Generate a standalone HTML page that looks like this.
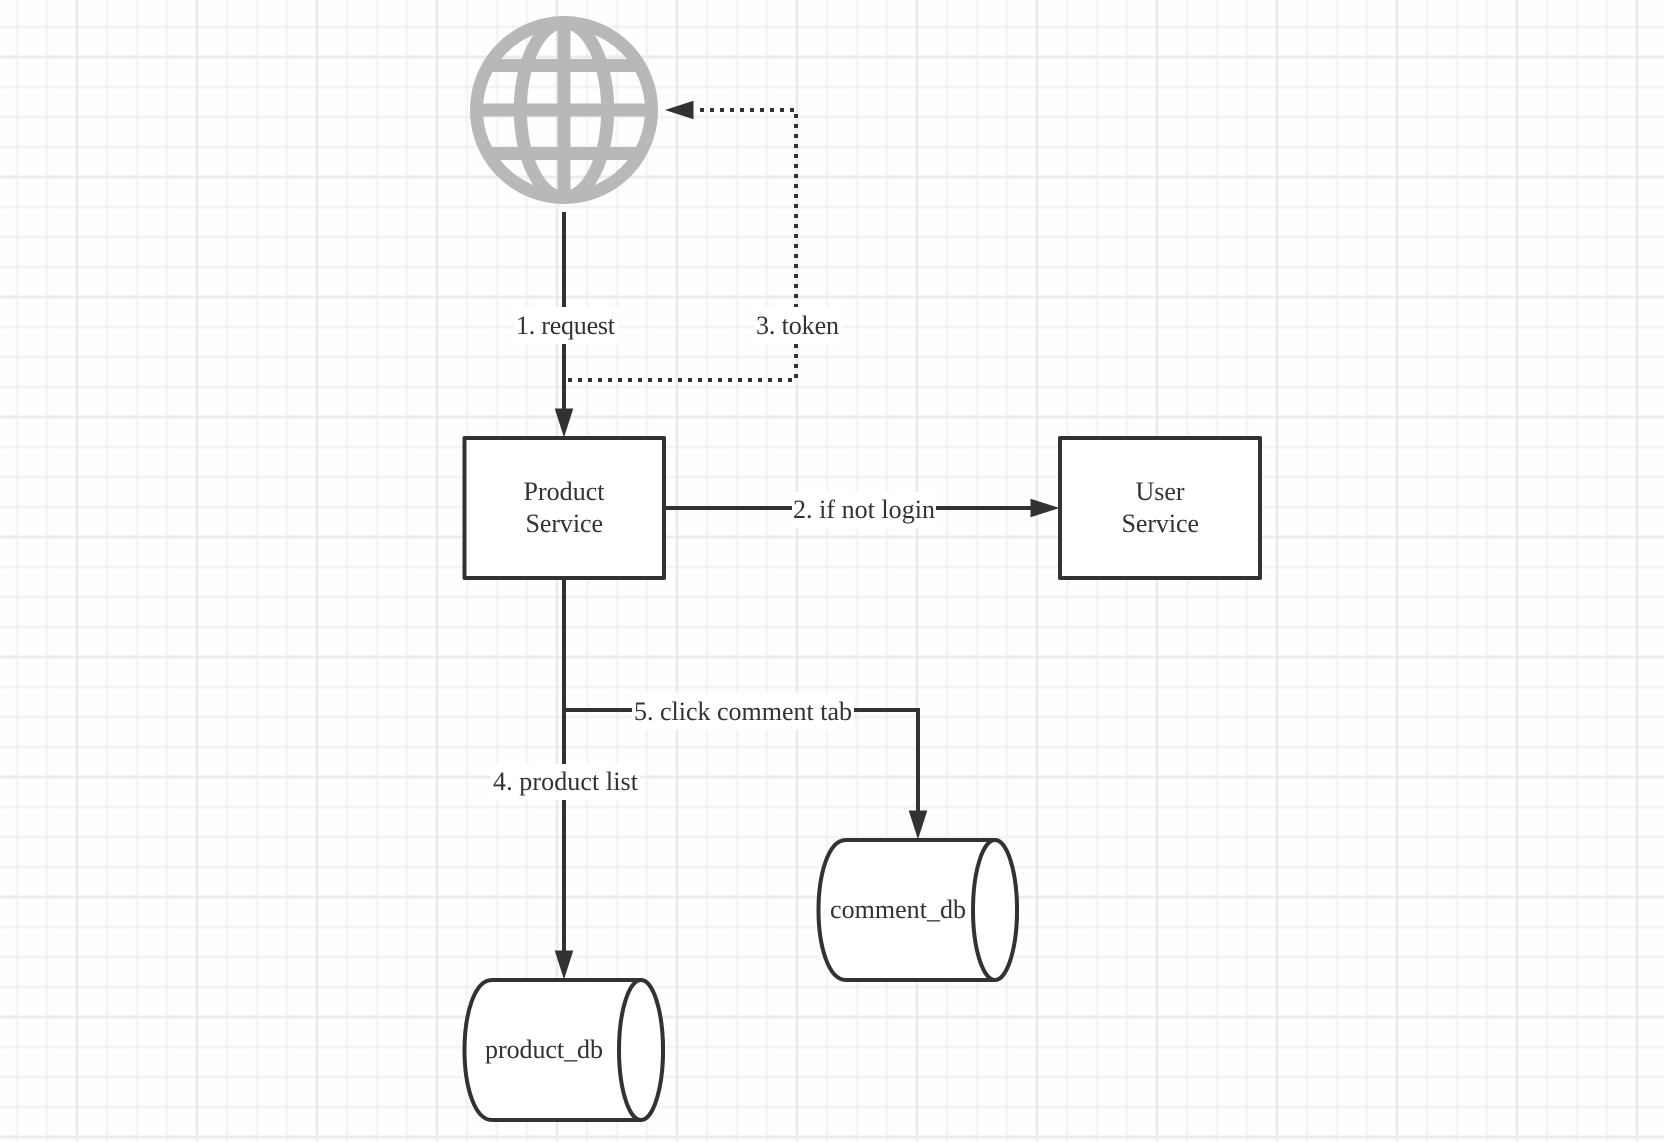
<!DOCTYPE html>
<html>
<head>
<meta charset="utf-8">
<style>
html,body{margin:0;padding:0;background:#fff;width:1664px;height:1142px;overflow:hidden}
svg{display:block}
text{font-family:"Liberation Serif",serif;font-size:26px;fill:#333}
</style>
</head>
<body>
<svg xmlns="http://www.w3.org/2000/svg" width="1664" height="1142" viewBox="0 0 1664 1142">
<defs>
<pattern id="gMinor" width="30" height="30" patternUnits="userSpaceOnUse" x="2" y="12">
<path d="M15 0V30M0 15H30" fill="none" stroke="#f2f2f2" stroke-width="2.4"/>
</pattern>
<pattern id="gMajor" width="120" height="120" patternUnits="userSpaceOnUse" x="17" y="-3">
<path d="M60 0V120M0 60H120" fill="none" stroke="#eaeaea" stroke-width="2.4"/>
</pattern>
<clipPath id="globeClip"><circle cx="564" cy="110" r="90"/></clipPath>
<filter id="soft" filterUnits="userSpaceOnUse" x="-10" y="-10" width="1684" height="1162"><feGaussianBlur stdDeviation="0.5"/></filter>
<filter id="softer" filterUnits="userSpaceOnUse" x="0" y="0" width="1664" height="1142"><feGaussianBlur stdDeviation="0.3"/></filter>
</defs>
<rect width="1664" height="1142" fill="#fefefe"/>
<g filter="url(#soft)">
<rect width="1664" height="1142" fill="url(#gMinor)"/>
<rect width="1664" height="1142" fill="url(#gMajor)"/>
</g>

<g filter="url(#softer)">
<!-- Globe -->
<g fill="none" stroke="#b8b8b8" stroke-width="13">
<circle cx="564" cy="110" r="87.5"/>
<ellipse cx="564" cy="110" rx="43.7" ry="87.5"/>
<g clip-path="url(#globeClip)">
<path d="M564 22V198M470 65.5H658M470 110H658M470 153.5H658"/>
</g>
</g>

<!-- Connectors -->
<g fill="none" stroke="#333" stroke-width="4">
<path d="M564 212V425"/>
<path d="M666 508H1045"/>
<path d="M564 580V965"/>
<path d="M564 710H918V825"/>
<path d="M568 380H796V110H695" stroke-dasharray="4 6"/>
</g>
<g fill="#333">
<path d="M554.7 408.5H573.3L564 437.5Z"/>
<path d="M1030.5 498.7V517.3L1059.5 508Z"/>
<path d="M554.7 950.5H573.3L564 979.5Z"/>
<path d="M908.7 810.5H927.3L918 839.5Z"/>
<path d="M693.5 100.7V119.3L665 110Z"/>
</g>

<!-- Boxes -->
<g fill="#fff" stroke="#333" stroke-width="4" stroke-linejoin="round">
<rect x="464.5" y="438" width="199.5" height="140"/>
<rect x="1060" y="438" width="200" height="140"/>
<path d="M492 980H641C653 980 663 1015 663 1050C663 1085 653 1120 641 1120H492C474 1120 464.5 1085 464.5 1050C464.5 1015 474 980 492 980Z"/>
<ellipse cx="641" cy="1050" rx="22" ry="70"/>
<path d="M846 840H995C1007 840 1017 875 1017 910C1017 945 1007 980 995 980H846C828 980 818.5 945 818.5 910C818.5 875 828 840 846 840Z"/>
<ellipse cx="995" cy="910" rx="22" ry="70"/>
</g>

<!-- Label backgrounds -->
<g fill="#fff">
<rect x="514" y="307" width="104" height="37"/>
<rect x="754" y="307" width="88" height="37"/>
<rect x="792" y="492" width="144" height="36"/>
<rect x="632" y="693" width="222" height="37"/>
<rect x="490" y="764" width="150" height="36"/>
</g>

<!-- Labels -->
<text x="516" y="334" textLength="99" lengthAdjust="spacing">1. request</text>
<text x="756" y="334" textLength="83" lengthAdjust="spacing">3. token</text>
<text x="793" y="518" textLength="142" lengthAdjust="spacing">2. if not login</text>
<text x="634" y="720" textLength="218" lengthAdjust="spacing">5. click comment tab</text>
<text x="493" y="790" textLength="145" lengthAdjust="spacing">4. product list</text>
<text x="523.5" y="500" textLength="81" lengthAdjust="spacing">Product</text>
<text x="525.5" y="532" textLength="77.5" lengthAdjust="spacing">Service</text>
<text x="1135.5" y="500" textLength="49" lengthAdjust="spacing">User</text>
<text x="1121.5" y="532" textLength="77.5" lengthAdjust="spacing">Service</text>
<text x="485" y="1058" textLength="118" lengthAdjust="spacing">product_db</text>
<text x="830" y="918" textLength="136" lengthAdjust="spacing">comment_db</text>
</g>
</svg>
</body>
</html>
